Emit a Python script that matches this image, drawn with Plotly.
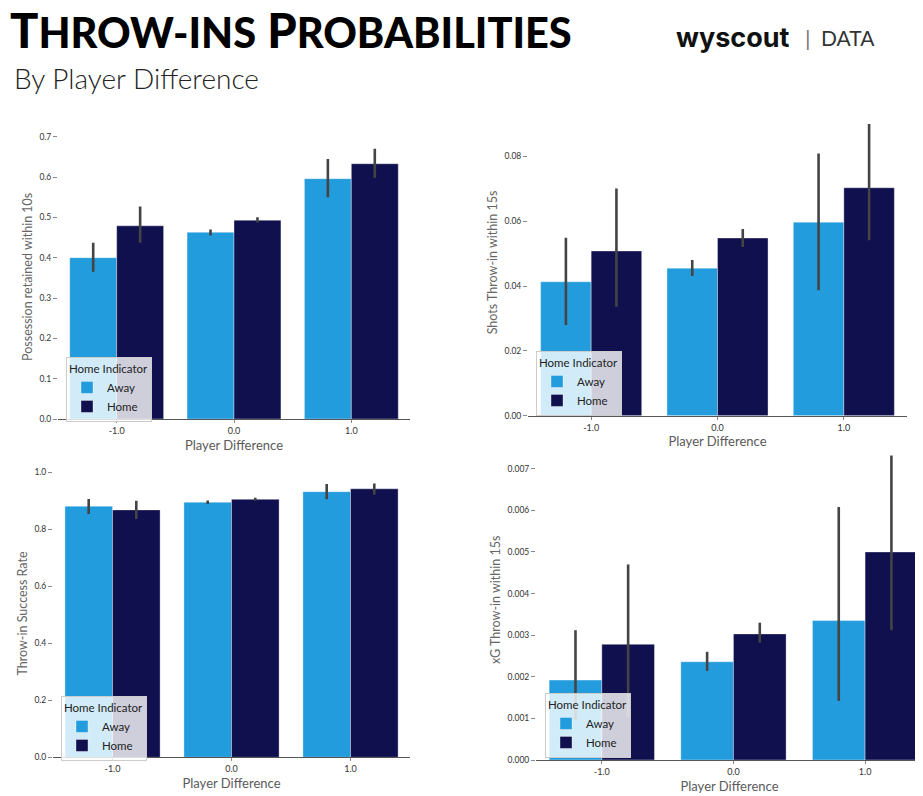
import plotly.graph_objects as go

# Data
categories = ["-1.0", "0.0", "1.0"]
cat_idx = [0, 1, 2]

poss_away = [0.400, 0.463, 0.596]
poss_away_lo = [0.365, 0.455, 0.550]
poss_away_hi = [0.437, 0.470, 0.645]
poss_home = [0.479, 0.493, 0.633]
poss_home_lo = [0.437, 0.487, 0.598]
poss_home_hi = [0.527, 0.500, 0.670]

shots_away = [0.0413, 0.0455, 0.0597]
shots_away_lo = [0.0280, 0.0431, 0.0387]
shots_away_hi = [0.0549, 0.0480, 0.0809]
shots_home = [0.0508, 0.0548, 0.0703]
shots_home_lo = [0.0336, 0.0520, 0.0541]
shots_home_hi = [0.0701, 0.0576, 0.0900]

succ_away = [0.881, 0.895, 0.932]
succ_away_lo = [0.854, 0.889, 0.905]
succ_away_hi = [0.906, 0.901, 0.959]
succ_home = [0.868, 0.905, 0.942]
succ_home_lo = [0.836, 0.900, 0.921]
succ_home_hi = [0.900, 0.911, 0.961]

xg_away = [0.00192, 0.00236, 0.00335]
xg_away_lo = [0.00096, 0.00214, 0.00142]
xg_away_hi = [0.00312, 0.00260, 0.00608]
xg_home = [0.00278, 0.00303, 0.00500]
xg_home_lo = [0.00103, 0.00282, 0.00312]
xg_home_hi = [0.00470, 0.00330, 0.00732]

AWAY = "#229cdc"
HOME = "#10104f"

# the page body adds an 8px margin, so the figure is drawn 8px smaller
OFF = 8
W, H = 923 - OFF, 796 - OFF


def px_x(p):
    return (p - OFF) / W


def px_y(p):
    return 1 - (p - OFF) / H


panels = [
    # suffix, label, away, lo, hi, home, lo, hi, yrange, dtick, fmt, x px, y px, legend pos, xrange
    ("", "Possession retained within 10s",
     poss_away, poss_away_lo, poss_away_hi, poss_home, poss_home_lo, poss_home_hi,
     [0, 0.705], 0.1, ".1f", (58, 410), (419, 134.7), (66, 357), [-0.5, 2.5]),
    ("2", "Shots Throw-in within 15s",
     shots_away, shots_away_lo, shots_away_hi, shots_home, shots_home_lo, shots_home_hi,
     [0, 0.0945], 0.02, ".2f", (528, 907), (415.7, 109.3), (536, 351), [-0.5, 2.5]),
    ("3", "Throw-in Success Rate",
     succ_away, succ_away_lo, succ_away_hi, succ_home, succ_home_lo, succ_home_hi,
     [0, 1.009], 0.2, ".1f", (53, 410), (757.3, 469.7), (61, 696), [-0.5, 2.5]),
    ("4", "xG Throw-in within 15s",
     xg_away, xg_away_lo, xg_away_hi, xg_home, xg_home_lo, xg_home_hi,
     [0, 0.0077], 0.001, ".3f", (536, 923), (760, 439.6), (545, 693), [-0.5, 2.44]),
]

fig = go.Figure()
layout = {}

for (sfx, label, a, alo, ahi, h, hlo, hhi, yr, dt, fmt, xp, yp, lp, xr) in panels:
    legend_name = "legend" + sfx
    for name, vals, lo, hi, col in [("Away", a, alo, ahi, AWAY), ("Home", h, hlo, hhi, HOME)]:
        fig.add_bar(
            x=cat_idx,
            y=vals,
            name=name,
            marker_color=col,
            marker_line=dict(color="rgba(255,255,255,0.6)", width=0.6),
            error_y=dict(
                type="data",
                array=[u - v for u, v in zip(hi, vals)],
                arrayminus=[v - l for v, l in zip(vals, lo)],
                color="#444444",
                thickness=2.6,
                width=0,
            ),
            xaxis="x" + sfx,
            yaxis="y" + sfx,
            legend=legend_name,
            offsetgroup=name,
        )

    layout["xaxis" + sfx] = dict(
        domain=[px_x(xp[0]), min(px_x(xp[1]), 1)],
        anchor="y" + sfx,
        range=xr,
        automargin=False,
        tickmode="array",
        tickvals=cat_idx,
        ticktext=categories,
        showline=True,
        linecolor="#555555",
        linewidth=1.2,
        ticks="outside",
        ticklen=3,
        tickcolor="#888888",
        tickfont=dict(size=9, color="#333333", family="Lato"),
        showgrid=False,
        zeroline=False,
        title=dict(text="Player Difference", standoff=5,
                   font=dict(size=13, color="#5a5a5a", family="Lato")),
    )
    layout["yaxis" + sfx] = dict(
        domain=[px_y(yp[0]), px_y(yp[1])],
        anchor="x" + sfx,
        range=yr,
        automargin=False,
        dtick=dt,
        tick0=0,
        tickformat=fmt,
        showline=False,
        ticks="outside",
        ticklen=4,
        tickcolor="#888888",
        tickfont=dict(size=8.5, color="#333333", family="Lato"),
        showgrid=False,
        zeroline=False,
        title=dict(text=label, standoff=4,
                   font=dict(size=12.5, color="#666666", family="Lato")),
    )
    layout[legend_name] = dict(
        x=px_x(lp[0]),
        y=px_y(lp[1]),
        xanchor="left",
        yanchor="top",
        title=dict(text="Home Indicator", font=dict(size=11.5, color="#222222", family="Lato")),
        font=dict(size=11.5, color="#222222", family="Lato"),
        bgcolor="rgba(255,255,255,0.8)",
        bordercolor="#cccccc",
        borderwidth=1,
        tracegroupgap=0,
    )

fig.update_layout(**layout)

fig.update_layout(
    width=W,
    height=H,
    barmode="group",
    bargap=0.2,
    bargroupgap=0,
    plot_bgcolor="white",
    paper_bgcolor="white",
    margin=dict(l=0, r=0, t=0, b=0),
    annotations=[
        dict(
            text="T<span style='font-size:41.5px'>HROW-INS</span> P<span style='font-size:41.5px'>ROBABILITIES</span>",
            x=px_x(8), y=px_y(30), xref="paper", yref="paper",
            xanchor="left", yanchor="middle", showarrow=False,
            font=dict(size=47, color="black", family="Lato", weight=900),
        ),
        dict(
            text="By Player Difference",
            x=px_x(12), y=px_y(78), xref="paper", yref="paper",
            xanchor="left", yanchor="middle", showarrow=False,
            font=dict(size=28, color="#222222", family="Lato", weight=300),
        ),
        dict(
            text="<b>wyscout</b>",
            x=px_x(674), y=px_y(37), xref="paper", yref="paper",
            xanchor="left", yanchor="middle", showarrow=False,
            font=dict(size=27, color="#111111", family="Inter", weight=900),
        ),
        dict(
            text="|",
            x=px_x(808), y=px_y(37), xref="paper", yref="paper",
            xanchor="center", yanchor="middle", showarrow=False,
            font=dict(size=22, color="#777777", family="Lato"),
        ),
        dict(
            text="DATA",
            x=px_x(819), y=px_y(37), xref="paper", yref="paper",
            xanchor="left", yanchor="middle", showarrow=False,
            font=dict(size=21, color="#333333", family="Lato"),
        ),
    ],
)

fig.write_html("out.html")
